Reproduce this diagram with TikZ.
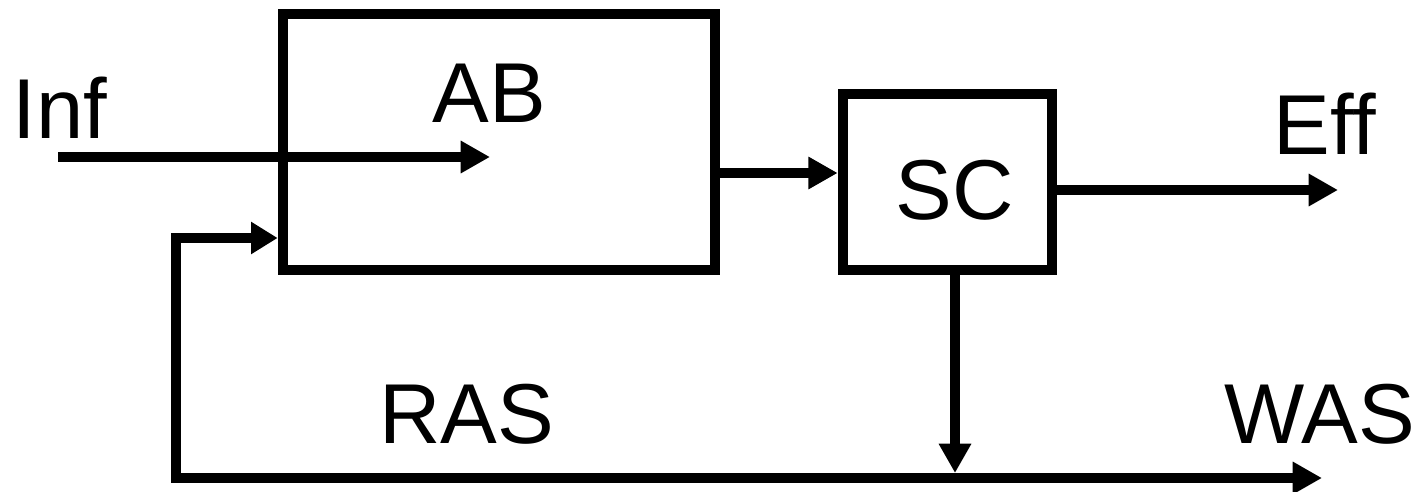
\documentclass[tikz,border=0pt]{standalone}
\usepackage{fontspec}
\setmainfont{Liberation Sans}
\usetikzlibrary{arrows.meta}
\begin{document}
\begin{tikzpicture}[x=0.75pt,y=-0.75pt,
  wire/.style={line width=8pt},
  arr/.style={wire,-{Triangle[length=22pt,width=23pt]}},
  arrboth/.style={wire,{Triangle[length=20pt,width=23pt]}-{Triangle[length=22pt,width=23pt]}},
  box/.style={draw,line width=8pt,rectangle,inner sep=0pt,outer sep=4pt},
  lbl/.style={inner sep=0pt,anchor=base,font=\fontsize{63.75}{70}\selectfont}]
\useasboundingbox (0,0) rectangle (1423,492);
% boxes
\node[box,minimum width=432*0.75pt,minimum height=256*0.75pt] (AB) at (499,142) {};
\node[box,minimum width=209*0.75pt,minimum height=176*0.75pt] (SC) at (947.5,182) {};
% labels
\node[lbl] (tAB) at (489,122) {AB};
\node[lbl] (tSC) at (955,219) {SC};
\node[lbl] (tInf) at (60,138) {Inf};
\node[lbl] (tEff) at (1325,154) {Eff};
\node[lbl] (tRAS) at (467,443) {RAS};
\node[lbl] (tWAS) at (1320,443) {WAS};
% coordinates
\coordinate (inf0) at (58,157);
\coordinate (inf1) at (490,157);
\coordinate (m1) at (780,173);
\coordinate (eff) at (1338,190);
\coordinate (drop) at (955,473);
\coordinate (rc) at (176,238);
\coordinate (bl) at (176,478);
\coordinate (was) at (1322,478);
% connectors
\draw[arr] (inf0) -- (inf1);
\draw[arr] (AB.east |- m1) -- (SC.west |- m1);
\draw[arr] (SC.east |- eff) -- (eff);
\draw[arr] (SC.south -| drop) -- (drop);
\draw[arrboth] (AB.west |- rc) -- (rc) -- (bl) -- (was);
\end{tikzpicture}
\end{document}
